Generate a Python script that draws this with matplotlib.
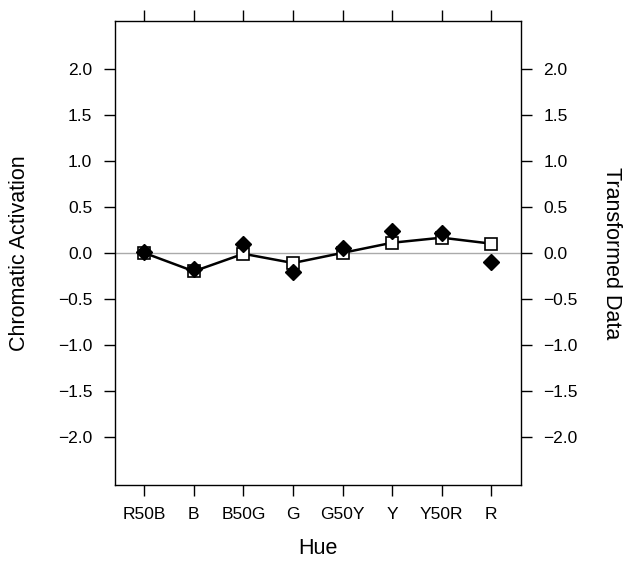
import numpy as np
import matplotlib
matplotlib.use("Agg")
import matplotlib.pyplot as plt

plt.rcParams["font.family"] = ["Liberation Sans", "DejaVu Sans"]

hues        = ["R50B", "B", "B50G", "G", "G50Y", "Y", "Y50R", "R"]
transformed = [0.00, -0.20, -0.01, -0.11, 0.00, 0.11, 0.165, 0.10]   # open squares + line
activation  = [0.01, -0.175, 0.10, -0.205, 0.055, 0.24, 0.22, -0.10]  # filled diamonds
y_ticks     = [-2.0, -1.5, -1.0, -0.5, 0.0, 0.5, 1.0, 1.5, 2.0]

x = np.arange(1, len(hues) + 1)

fig = plt.figure(figsize=(6.24, 5.63), dpi=100)
ax = fig.add_axes([0.1835, 0.1385, 0.6515, 0.8247])

ax.axhline(0, color="#aaaaaa", linewidth=1, zorder=1)
ax.plot(x, transformed, color="black", linewidth=1.8, zorder=2)
ax.plot(x, transformed, linestyle="none", marker="s", markersize=9,
        markerfacecolor="white", markeredgecolor="black", markeredgewidth=1.2, zorder=3)
ax.plot(x, activation, linestyle="none", marker="D", markersize=8.5,
        markerfacecolor="black", markeredgecolor="black", zorder=4)

ax.set_xlim(0.4, 8.6)
ax.set_ylim(-2.52, 2.52)

ax.set_xticks(x)
ax.set_xticklabels(hues)
ax.set_yticks(y_ticks)
ax.set_yticklabels([f"{v:.1f}".replace("-", "\u2212") for v in y_ticks])

ax.tick_params(axis="both", direction="out", length=8, width=1, labelsize=12.5,
               top=True, right=True, left=True, bottom=True,
               labelright=True, labelleft=True, labeltop=False, pad=8)

for s in ax.spines.values():
    s.set_linewidth(1)

fig.text(0.5 * (0.1835 * 2 + 0.6515), 1 - 549 / 563, "Hue", fontsize=15.5,
         ha="center", va="center")
fig.text(20 / 624, 0.1385 + 0.8247 / 2, "Chromatic Activation", fontsize=15.5,
         rotation=90, ha="center", va="center")
fig.text(611 / 624, 0.1385 + 0.8247 / 2, "Transformed Data", fontsize=15.5,
         rotation=-90, ha="center", va="center")

fig.savefig("out.png", dpi=100)
